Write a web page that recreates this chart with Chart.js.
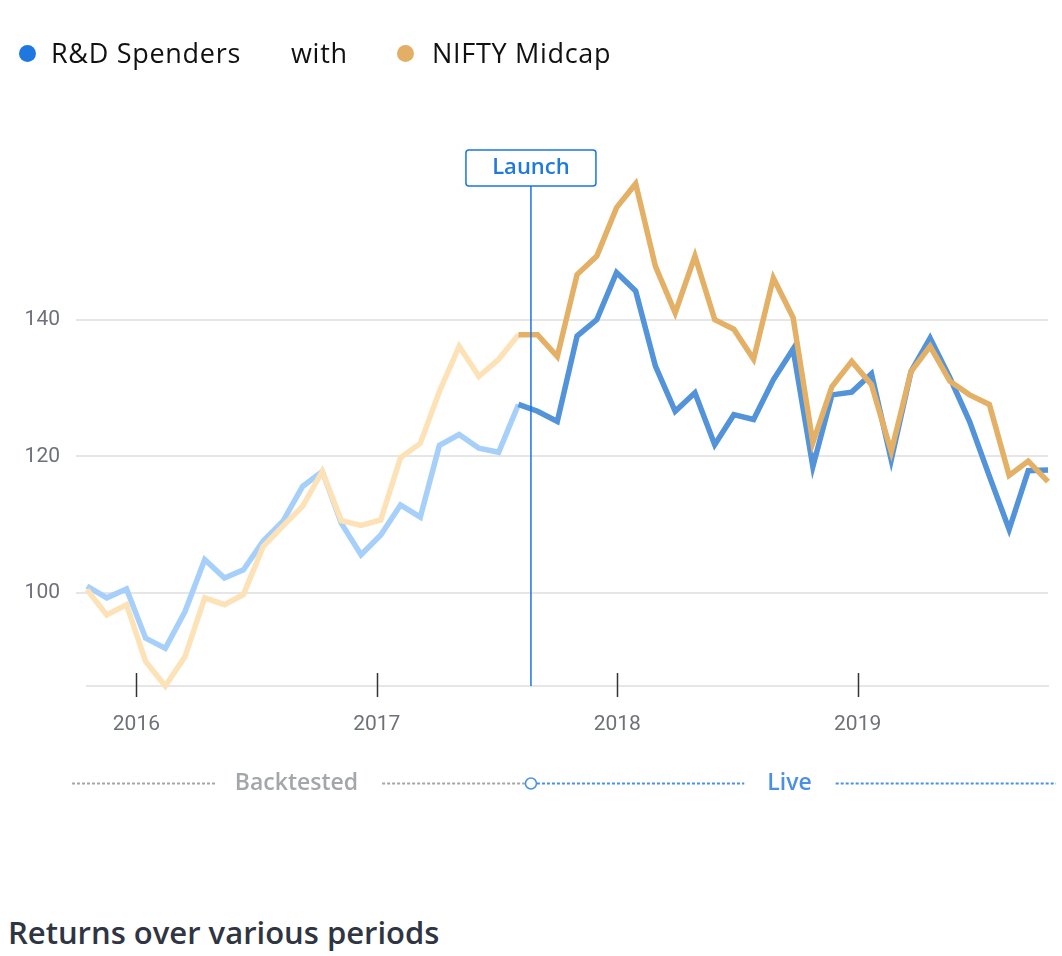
<!DOCTYPE html>
<html>
<head>
<meta charset="utf-8">
<script src="https://cdn.jsdelivr.net/npm/chart.js@4.4.1/dist/chart.umd.min.js"></script>
<style>
  body { margin: 0; background: #fff; font-family: "Open Sans", Roboto, sans-serif; }
  #page { position: relative; width: 1062px; height: 956px; overflow: hidden; }
  .legend { position: absolute; top: 35px; left: 0; height: 36px; font-size: 27px; color: #111; letter-spacing: 0.7px; }
  .legend span { position: absolute; top: 0; white-space: nowrap; line-height: 36px; }
  .dot { width: 17px; height: 17px; border-radius: 50%; top: 10px !important; }
  #chartBox { position: absolute; left: 0; top: 0; width: 1062px; height: 810px; }
  h2 { position: absolute; left: 8px; top: 910px; margin: 0; font-family: "Open Sans", sans-serif;
       font-size: 31px; font-weight: 600; color: #2f3542; line-height: 44px; }
</style>
</head>
<body>
<div id="page">
  <div id="chartBox"><canvas id="chart"></canvas></div>
  <div class="legend">
    <span class="dot" style="left:19px;background:#1e78e0"></span>
    <span style="left:51px">R&amp;D Spenders</span>
    <span style="left:291px">with</span>
    <span class="dot" style="left:397px;background:#e3ae66"></span>
    <span style="left:432px">NIFTY Midcap</span>
  </div>
  <h2>Returns over various periods</h2>
</div>

<script>
// Observation dates (roughly monthly)
const dates = [
    '2015-10-18', '2015-11-17', '2015-12-17',
    '2016-01-15', '2016-02-14', '2016-03-15', '2016-04-14', '2016-05-14', '2016-06-12',
    '2016-07-12', '2016-08-11', '2016-09-10', '2016-10-10', '2016-11-08', '2016-12-08',
    '2017-01-07', '2017-02-06', '2017-03-08', '2017-04-06', '2017-05-06', '2017-06-05',
    '2017-07-05', '2017-08-04', '2017-09-02', '2017-10-02', '2017-11-01', '2017-12-01',
    '2017-12-31', '2018-01-29', '2018-02-28', '2018-03-30', '2018-04-29', '2018-05-29',
    '2018-06-27', '2018-07-27', '2018-08-26', '2018-09-25', '2018-10-25', '2018-11-23',
    '2018-12-23', '2019-01-22', '2019-02-21', '2019-03-23', '2019-04-21', '2019-05-21',
    '2019-06-20', '2019-07-20', '2019-08-19', '2019-09-17', '2019-10-17'
];

const rdSpenders = [
    101.0, 99.3, 100.6, 93.4, 91.9, 97.3, 104.9, 102.2, 103.4, 107.6,
    110.5, 115.6, 117.8, 110.2, 105.6, 108.5, 112.9, 111.1, 121.6, 123.2,
    121.2, 120.6, 127.6, 126.6, 125.1, 137.6, 140.0, 146.9, 144.2, 133.2,
    126.6, 129.3, 121.7, 126.1, 125.4, 131.2, 135.7, 118.5, 129.0, 129.4,
    132.1, 119.5, 132.4, 137.3, 131.5, 125.1, 117.1, 109.3, 117.9, 118.0
];

const niftyMidcap = [
    100.5, 96.8, 98.3, 90.0, 86.4, 90.7, 99.3, 98.3, 99.8, 106.8,
    109.8, 112.7, 117.8, 110.6, 109.9, 110.7, 119.8, 121.9, 129.5, 136.1,
    131.7, 134.2, 137.8, 137.8, 134.6, 146.6, 149.3, 156.4, 159.9, 147.8,
    141.0, 149.3, 140.0, 138.6, 134.2, 146.1, 140.3, 122.0, 130.2, 133.9,
    130.5, 120.7, 132.4, 136.1, 131.0, 129.0, 127.6, 117.2, 119.3, 116.3
];

const launchDate = '2017-08-23';
const yearTicks = [2016, 2017, 2018, 2019];
const valueTicks = [100, 120, 140];

function toYear(s) {
    const d = Date.parse(s + 'T00:00:00Z');
    const y = new Date(d).getUTCFullYear();
    const start = Date.UTC(y, 0, 1);
    return y + (d - start) / (Date.UTC(y + 1, 0, 1) - start);
}

const xs = dates.map(toYear);
const launchX = toYear(launchDate);

function toPoints(values) {
    return values.map((v, i) => ({ x: xs[i], y: v }));
}

// live part (after launch) darker, backtest part pale
function segColor(light, dark) {
    return ctx => (ctx.p1.parsed.x > launchX ? dark : light);
}

const GRID = '#e6e6e6';

// Year tick marks, Launch marker and Backtested / Live strip
const decorPlugin = {
    id: 'decor',
    afterDatasetsDraw(chart) {
        const { ctx, chartArea, scales } = chart;
        const x = scales.x;
        const lx = x.getPixelForValue(launchX);

        ctx.save();
        // year ticks crossing the axis line
        ctx.strokeStyle = '#333';
        ctx.lineWidth = 1.5;
        yearTicks.forEach(t => {
            const px = Math.round(x.getPixelForValue(t)) + 0.5;
            ctx.beginPath();
            ctx.moveTo(px, chartArea.bottom - 13);
            ctx.lineTo(px, chartArea.bottom + 11);
            ctx.stroke();
        });

        // launch line
        ctx.strokeStyle = '#1a73e8';
        ctx.lineWidth = 1.5;
        ctx.beginPath();
        ctx.moveTo(lx, 186);
        ctx.lineTo(lx, chartArea.bottom);
        ctx.stroke();

        // launch label box
        const bw = 130, bh = 36, bx = lx - 65, by = 150;
        ctx.fillStyle = '#fff';
        ctx.beginPath();
        ctx.roundRect(bx, by, bw, bh, 3);
        ctx.fill();
        ctx.stroke();
        ctx.fillStyle = '#2079e0';
        ctx.font = '600 22px "Open Sans", sans-serif';
        ctx.textAlign = 'center';
        ctx.textBaseline = 'middle';
        ctx.fillText('Launch', lx, by + bh / 2);

        // Backtested / Live strip
        const sy = 783.5;
        const left = 72, right = 1056;
        ctx.lineWidth = 2;
        ctx.setLineDash([3, 2]);
        ctx.font = '600 23px "Open Sans", sans-serif';

        const midB = (left + lx) / 2 - 5;
        const wB = ctx.measureText('Backtested').width;
        ctx.strokeStyle = '#a3a6aa';
        ctx.beginPath();
        ctx.moveTo(left, sy); ctx.lineTo(midB - wB / 2 - 19, sy);
        ctx.moveTo(midB + wB / 2 + 24, sy); ctx.lineTo(lx - 6, sy);
        ctx.stroke();
        ctx.fillStyle = '#a3a6aa';
        ctx.fillText('Backtested', midB, sy);

        const midL = (lx + right) / 2 - 4;
        const wL = ctx.measureText('Live').width;
        ctx.strokeStyle = '#4a90e6';
        ctx.beginPath();
        ctx.moveTo(lx + 6, sy); ctx.lineTo(midL - wL / 2 - 23, sy);
        ctx.moveTo(midL + wL / 2 + 24, sy); ctx.lineTo(right, sy);
        ctx.stroke();
        ctx.fillStyle = '#4a90e6';
        ctx.fillText('Live', midL, sy);

        ctx.setLineDash([]);
        ctx.lineWidth = 1.5;
        ctx.strokeStyle = '#4a90e6';
        ctx.fillStyle = '#fff';
        ctx.beginPath();
        ctx.arc(lx, sy, 5.5, 0, Math.PI * 2);
        ctx.fill();
        ctx.stroke();
        ctx.restore();
    }
};

new Chart(document.getElementById('chart'), {
    type: 'line',
    data: {
        datasets: [
            {
                label: 'NIFTY Midcap',
                data: toPoints(niftyMidcap),
                borderWidth: 5.5,
                borderColor: '#e3b066',
                segment: { borderColor: segColor('#fde2b8', '#e3b066') },
                pointRadius: 0,
                tension: 0,
                order: 0
            },
            {
                label: 'R&D Spenders',
                data: toPoints(rdSpenders),
                borderWidth: 5.5,
                borderColor: '#5293d9',
                segment: { borderColor: segColor('#a6cffa', '#5293d9') },
                pointRadius: 0,
                tension: 0,
                order: 1
            }
        ]
    },
    options: {
        responsive: true,
        maintainAspectRatio: false,
        animation: false,
        clip: false,
        layout: { padding: { top: 183, right: 14, left: 0, bottom: 0 } },
        plugins: { legend: { display: false }, tooltip: { enabled: false } },
        scales: {
            x: {
                type: 'linear',
                min: xs[0],
                max: xs[xs.length - 1],
                afterBuildTicks: scale => { scale.ticks = yearTicks.map(v => ({ value: v })); },
                afterFit: scale => { scale.height = 124; },
                grid: { display: false, drawTicks: false },
                border: { display: true, color: GRID, width: 2 },
                ticks: {
                    color: '#6f717a',
                    font: { family: 'Roboto', size: 21 },
                    padding: 26,
                    maxRotation: 0,
                    callback: v => String(v)
                }
            },
            y: {
                min: 86.4,
                max: 160,
                afterBuildTicks: scale => { scale.ticks = valueTicks.map(v => ({ value: v })); },
                afterFit: scale => { scale.width = 87; },
                grid: { color: GRID, lineWidth: 2, tickLength: 11, tickColor: GRID },
                border: { display: false },
                ticks: {
                    color: '#6f717a',
                    font: { family: 'Roboto', size: 21 },
                    padding: 16
                }
            }
        }
    },
    plugins: [decorPlugin]
});
</script>
</body>
</html>
